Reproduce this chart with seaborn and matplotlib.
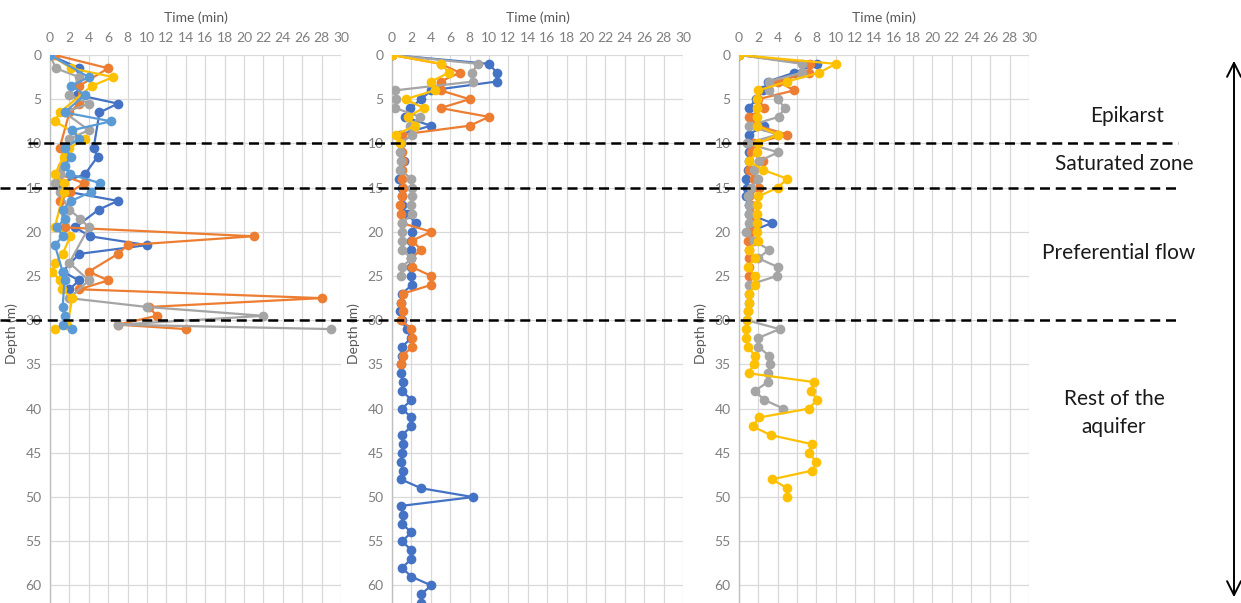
import pandas as pd
import matplotlib
matplotlib.use("Agg")
import matplotlib.pyplot as plt
import seaborn as sns
from matplotlib.lines import Line2D
from matplotlib.patches import FancyArrowPatch
from matplotlib.transforms import blended_transform_factory

# ---------------- data: travel time (min) versus depth (m) ----------------
SERIES = ["S1", "S2", "S3", "S4", "S5"]
COLORS = {"S1": "#4472C4", "S2": "#ED7D31", "S3": "#A5A5A5", "S4": "#FFC000", "S5": "#5B9BD5"}

# Site A (half-metre sampling)
a1_depth = [0, 1.5, 4.5, 5.5, 6.5, 10.5, 11.5, 13.5, 14.5, 15.5, 16.5, 17.5, 19.5, 20.5, 21.5, 22.5, 24.5, 25.5, 26.5]
a1_time = [0, 3.0, 2.8, 7.0, 5.1, 4.5, 4.9, 3.6, 1.0, 2.0, 7.0, 5.0, 2.6, 4.1, 10.0, 3.0, 1.3, 3.0, 2.0]
a2_depth = [0, 1.5, 3.5, 5.5, 6.5, 10.5, 11.5, 12.5, 13.5, 14.5, 15.5, 16.5, 19.5, 20.5, 21.5, 22.5, 24.5, 25.5, 26.5, 27.5, 28.5, 29.5, 30.5, 31]
a2_time = [0.5, 6.0, 3.0, 3.0, 2.0, 1.0, 1.5, 1.3, 1.0, 3.5, 2.1, 1.0, 1.5, 21.0, 8.0, 7.0, 4.0, 6.0, 3.0, 28.0, 10.2, 11.0, 7.0, 14.0]
a3_depth = [0, 1.5, 2.5, 4.5, 5.5, 6.5, 8.5, 9.5, 10.5, 12.5, 13.5, 14.5, 15.5, 17.5, 18.5, 19.5, 23.5, 25.5, 27.5, 28.5, 29.5, 30.5, 31]
a3_time = [0, 0.6, 3.0, 2.0, 4.0, 1.5, 4.0, 2.0, 1.5, 1.2, 1.0, 0.5, 1.0, 2.0, 3.1, 4.0, 2.0, 4.0, 2.0, 10.0, 22.0, 7.0, 29.0]
a4_depth = [0, 1.5, 2.5, 3.5, 6.5, 7.5, 9.5, 10.5, 11.5, 13.5, 14.5, 15.5, 19.5, 20.5, 22.5, 23.5, 24.5, 25.5, 26.5, 27.5, 30.5, 31]
a4_time = [0, 2.2, 6.5, 4.3, 1.0, 0.5, 3.6, 2.0, 1.4, 0.5, 1.4, 1.4, 0.5, 2.1, 1.3, 0.5, 0.25, 1.0, 1.2, 2.3, 1.8, 0.5]
a5_depth = [0, 2.5, 3.5, 4.5, 6.5, 7.5, 8.5, 9.5, 10.5, 11.5, 12.5, 13.5, 14.5, 15.5, 16.5, 17.5, 18.5, 19.5, 20.5, 21.5, 24.5, 25.5, 28.5, 29.5, 30.5, 31]
a5_time = [0, 4.0, 2.2, 3.6, 1.5, 6.3, 2.3, 3.0, 1.5, 2.2, 1.5, 2.1, 5.2, 4.2, 2.2, 1.3, 1.5, 0.75, 1.3, 0.5, 1.3, 1.5, 1.3, 1.5, 1.3, 2.3]

# Site B (one-metre sampling)
b1_time = [0, 10.0, 10.8, 10.8, 4.05, 3.0, 1.9, 1.3, 4.0, 0.8, 0.9, 0.9, 1.2, 0.9, 0.7, 1.0, 1.0, 1.0, 1.5, 2.5,
           2.1, 2.0, 2.0, 2.0, 2.0, 2.0, 2.06, 1.03, 0.9, 0.86, 1.0, 1.5, 2.0, 1.03, 1.0, 0.9, 0.9, 1.13, 1.03, 2.0,
           1.03, 2.0, 2.0, 1.03, 1.1, 1.03, 0.96, 1.1, 0.93, 3.0, 8.35, 0.93, 1.1, 1.03, 2.0, 1.03, 2.0, 2.0, 1.03, 2.0,
           4.05, 3.0, 3.0]
b2_time = [0, 5.0, 7.0, 5.0, 5.0, 8.0, 5.0, 10.0, 8.0, 1.0, 0.9, 1.0, 1.1, 1.0, 1.0, 1.1, 1.03, 0.86, 0.93, 1.0,
           4.05, 2.06, 3.0, 2.0, 2.1, 4.05, 4.05, 1.1, 0.93, 1.1, 0.93, 2.0, 2.1, 2.1, 1.1, 0.96]
b3_time = [0, 8.9, 8.2, 8.4, 0.3, 0.45, 0.35, 2.9, 1.9, 2.1, 0.9, 0.86, 0.9, 0.86, 2.0, 2.05, 2.06, 2.0, 2.06, 1.03,
           1.03, 1.03, 1.03, 2.0, 1.03, 0.93]
b4_time = [0, 5.1, 5.85, 4.05, 4.4, 1.4, 3.26, 1.6, 2.4, 0.4, 0.86]

# Site C (one-metre sampling)
c1_time = [0, 8.1, 5.7, 3.0, 2.5, 1.8, 1.0, 1.2, 2.6, 1.0, 0.9, 1.0, 1.0, 0.9, 0.7, 0.8, 0.7, 1.0, 1.0, 3.4, 1.1]
c2_time = [0, 7.3, 7.2, 4.0, 5.7, 2.0, 2.6, 1.0, 1.9, 5.0, 1.5, 1.2, 2.5, 1.0, 1.5, 2.1, 1.0, 1.2, 1.2, 1.4,
           1.1, 0.9, 1.0, 1.0, 1.0, 1.07]
c3_time = [0, 6.5, 6.5, 3.1, 3.1, 4.0, 4.75, 4.1, 1.0, 4.0, 0.8, 4.06, 2.1, 1.5, 2.0, 1.2, 0.9, 1.07, 1.0, 1.0,
           0.7, 1.5, 3.1, 2.0, 4.06, 3.9, 1.03, 1.0, 1.0, 0.9, 0.8, 4.2, 2.0, 2.0, 3.1, 3.2, 3.0, 2.96, 1.65, 2.6, 4.6]
c4_time = [0, 10.0, 8.3, 5.0, 2.0, 1.9, 1.9, 1.9, 1.9, 4.0, 2.0, 1.9, 1.0, 2.5, 5.0, 4.0, 2.0, 1.9, 1.9, 1.9,
           1.9, 2.0, 1.0, 1.65, 0.9, 1.7, 1.7, 1.0, 1.0, 0.9, 0.8, 0.7, 0.7, 0.9, 1.65, 1.5, 1.0, 7.8, 7.4, 8.1,
           7.2, 2.07, 1.4, 3.3, 7.5, 7.2, 8.0, 7.6, 3.4, 5.0, 5.0]

zone_depths = [10, 15, 30]
zone_labels = ["Epikarst", "Saturated zone", "Preferential flow", "Rest of the\naquifer"]
x_ticks = list(range(0, 31, 2))
y_ticks = list(range(0, 61, 5))


def metre_depths(times):
    return list(range(len(times)))


def frame(pairs):
    rows = []
    for name, (d, t) in zip(SERIES, pairs):
        rows.append(pd.DataFrame({"series": name, "depth": d, "time": t}))
    return pd.concat(rows, ignore_index=True)


panels = [
    frame([(a1_depth, a1_time), (a2_depth, a2_time), (a3_depth, a3_time), (a4_depth, a4_time), (a5_depth, a5_time)]),
    frame([(metre_depths(t), t) for t in (b1_time, b2_time, b3_time, b4_time)]),
    frame([(metre_depths(t), t) for t in (c1_time, c2_time, c3_time, c4_time)]),
]

# ---------------- figure ----------------
sns.set_theme(style="white")
plt.rcParams["font.family"] = ["Lato", "DejaVu Sans"]

W, H = 1241, 603
fig = plt.figure(figsize=(W / 100, H / 100), dpi=100)
fig.patch.set_facecolor("white")

TOP, BOTTOM = 55, 612          # pixel rows of depth 0 and depth 63
lefts_rights = [(50, 341), (392, 683), (739, 1029)]
axes = []
for (l, r), df in zip(lefts_rights, panels):
    ax = fig.add_axes([l / W, 1 - BOTTOM / H, (r - l) / W, (BOTTOM - TOP) / H])
    ax.set_facecolor("white")
    hues = [s for s in SERIES if s in set(df["series"])]
    sns.lineplot(data=df, x="time", y="depth", hue="series", hue_order=hues, palette=COLORS,
                 sort=False, estimator=None, marker="o", markersize=7, markeredgewidth=0,
                 linewidth=1.6, legend=False, ax=ax, zorder=3)
    ax.set_xlim(0, 30)
    ax.set_ylim(63, 0)
    ax.set_xticks(x_ticks)
    ax.set_yticks(y_ticks)
    ax.xaxis.tick_top()
    ax.xaxis.set_label_position("top")
    ax.set_xlabel("Time (min)", fontsize=10, color="#595959", labelpad=7)
    ax.set_ylabel("Depth (m)", fontsize=10, color="#595959", labelpad=5)
    ax.grid(True, color="#d9d9d9", linewidth=0.9)
    ax.set_axisbelow(True)
    for side, sp in ax.spines.items():
        sp.set_visible(side == "left")
    ax.spines["left"].set_color("#bfbfbf")
    ax.spines["left"].set_linewidth(1.0)
    ax.tick_params(axis="x", length=0, labelsize=10, labelcolor="#7f7f7f", pad=8)
    ax.tick_params(axis="y", length=0, labelsize=10, labelcolor="#7f7f7f", pad=6)
    axes.append(ax)

# zone boundaries running across all panels
tr = blended_transform_factory(fig.transFigure, axes[0].transData)
for d, x0 in zip(zone_depths, [28, 0, 0]):
    fig.add_artist(Line2D([x0 / W, 1178 / W], [d, d], transform=tr, color="black",
                          linewidth=1.8, linestyle=(0, (4, 2.3)), zorder=10))

# zone names
label_pos = [(1127, 116), (1124, 164), (1119, 253), (1114, 413)]
for text, (x, y) in zip(zone_labels, label_pos):
    fig.text(x / W, 1 - y / H, text, ha="center", va="center", fontsize=15,
             color="#1a1a1a", linespacing=1.5)

# depth arrow
fig.add_artist(FancyArrowPatch((1234 / W, 1 - 58 / H), (1234 / W, 1 - 600 / H),
                               transform=fig.transFigure, arrowstyle="<->,head_length=0.5,head_width=0.25",
                               mutation_scale=20, color="black", linewidth=1.4))

fig.savefig("out.png", dpi=100, facecolor="white")
